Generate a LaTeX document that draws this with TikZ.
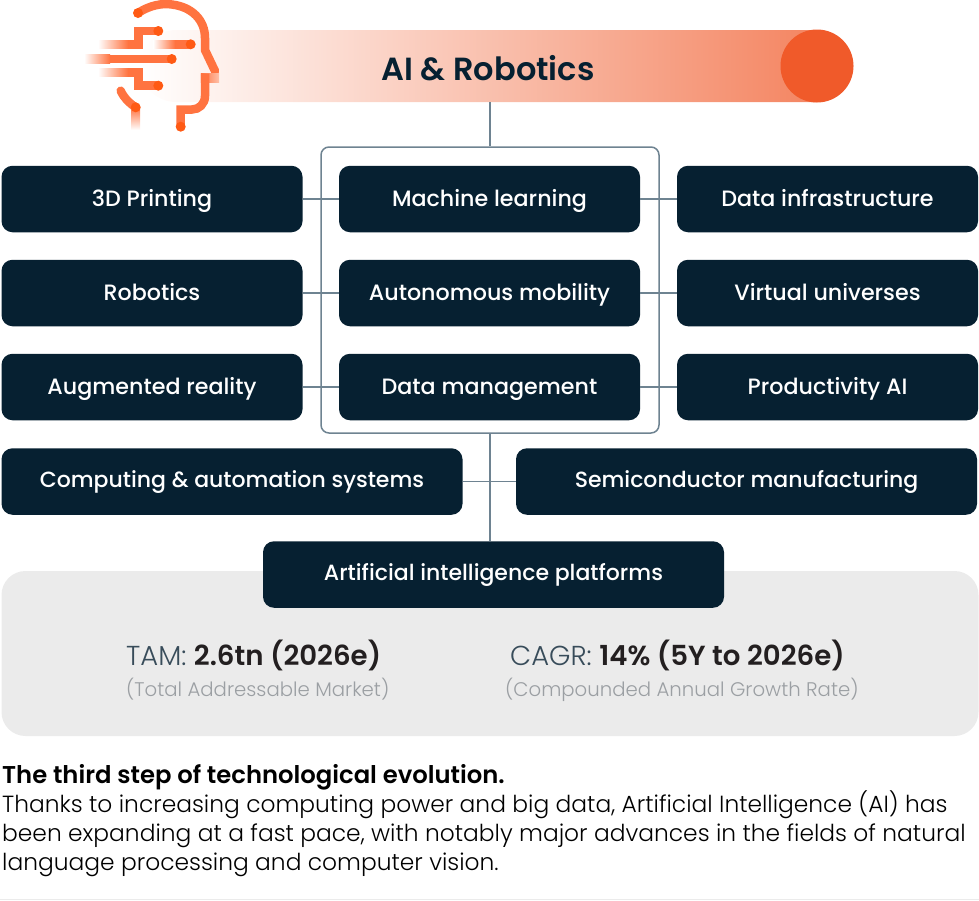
\documentclass[tikz,border=0pt]{standalone}
\usepackage{fontspec}
\setmainfont{Poppins}
\newfontfamily\lightfont{Poppins Light}
\newfontfamily\mediumfont{Poppins Medium}
\newfontfamily\semifont{Poppins SemiBold}
\definecolor{navy}{HTML}{062031}
\definecolor{wire}{HTML}{6E8391}
\definecolor{panel}{HTML}{EBEBEB}
\definecolor{flame}{HTML}{F05A2A}
\definecolor{iconline}{HTML}{FF7340}
\definecolor{icondot}{HTML}{FF5A14}
\definecolor{softgray}{HTML}{9B9FA3}
\definecolor{figure}{HTML}{231F20}
\tikzset{
	sector/.style={fill=navy, text=white, rounded corners=11pt, minimum height=66.5pt, inner sep=0pt, text height=19pt, text depth=5pt, font=\mediumfont\fontsize{22.2}{26}\selectfont},
	small box/.style={sector, minimum width=301pt},
	wide box/.style={sector, minimum width=461pt, text height=18pt, text depth=6pt, font=\mediumfont\fontsize{22}{26}\selectfont},
	wire/.style={draw=wire, line width=1.5pt},
	head/.style={draw=iconline, line width=8.5pt},
	dot/.style={fill=icondot, circle, minimum size=10pt, inner sep=0pt},
	tam/.style={font=\lightfont\fontsize{27.4}{30}\selectfont, text=navy!80, inner sep=0pt},
	note/.style={font=\lightfont\fontsize{19.7}{24}\selectfont, text=softgray, inner sep=0pt}
}
\newcommand{\figval}[1]{{\semifont\fontsize{27.6}{30}\selectfont\color{figure}#1}}
\begin{document}
\begin{tikzpicture}[x=1pt, y=-1pt]
	\useasboundingbox (0,0) rectangle (979,900);
	% banner
	\node[minimum width=713pt, minimum height=72pt, inner sep=0pt, rounded corners=36pt, left color=white, right color=flame!78] (banner) at (496.5,66) {};
	\node[circle, fill=flame, minimum size=73pt, inner sep=0pt] (disc) at (817,66) {};
	\node[font=\semifont\fontsize{32}{36}\selectfont, text=navy, inner sep=0pt] (title) at (488,68) {AI \& Robotics};
	% head icon
	\draw[head, line cap=round] (138,13) .. controls (150,5) and (163,3) .. (172,4.5) .. controls (192,7) and (205,20) .. (205,38) -- (205,50) -- (215,71);
	\fill[left color=iconline, right color=iconline!45] (200.8,73.7) rectangle (219,82.3);
	\draw[head] (205,73.7) -- (205,96) .. controls (205,104) and (199,109.5) .. (192,109.5) -- (180.7,109.5) -- (180.7,126.7);
	\draw[head] (158.3,31) -- (138.3,31) -- (138.3,44.3) -- (128,44.3);
	\draw[head] (158.3,85.7) -- (138.3,85.7) -- (138.3,72.3) -- (128,72.3);
	\draw[head] (171.7,59) -- (110,59);
	\draw[head] (190.7,44.3) -- (175,44.3);
	\draw[head, line cap=round] (120.7,90.7) .. controls (124,98) and (129,103) .. (135.7,107.3);
	\fill[left color=white, right color=iconline] (98,40) rectangle (128,48.6);
	\fill[left color=white, right color=iconline] (98,68) rectangle (128,76.6);
	\fill[left color=white, right color=iconline] (84,54.7) rectangle (110,63.3);
	\fill[left color=white, right color=iconline] (153,40) rectangle (175,48.6);
	\fill[top color=iconline, bottom color=white] (131.4,107.3) rectangle (140,130);
	\foreach \dotx/\doty in {138/13, 158.3/31, 190.7/44.3, 171.7/59, 158.3/85.7, 135.7/107.3, 180.7/126.7}
		\node[dot] at (\dotx,\doty) {};
	% panel and frame
	\node[fill=panel, rounded corners=24pt, minimum width=977pt, minimum height=165pt, inner sep=0pt] (panelbox) at (490,653.5) {};
	\node[draw=wire, line width=1.5pt, rounded corners=8pt, minimum width=338pt, minimum height=286pt, inner sep=0pt] (frame) at (490,290) {};
	% boxes
	\node[small box] (printing) at (152,199) {3D Printing};
	\node[small box] (machine) at (489.5,199) {Machine learning};
	\node[small box] (infra) at (827.5,199) {Data infrastructure};
	\node[small box] (robotics) at (152,293) {Robotics};
	\node[small box] (mobility) at (489.5,293) {Autonomous mobility};
	\node[small box] (universes) at (827.5,293) {Virtual universes};
	\node[small box] (reality) at (152,387) {Augmented reality};
	\node[small box] (management) at (489.5,387) {Data management};
	\node[small box] (productivity) at (827.5,387) {Productivity AI};
	\node[wide box] (computing) at (232,481.5) {Computing \& automation systems};
	\node[wide box] (semi) at (746.5,481.5) {Semiconductor manufacturing};
	\node[wide box] (platforms) at (493.5,574.5) {Artificial intelligence platforms};
	% connectors
	\draw[wire] (banner.south -| frame.north) -- (frame.north);
	\draw[wire] (frame.south) -- (platforms.north -| frame.south);
	\foreach \lhs/\rhs in {printing/machine, machine/infra, robotics/mobility, mobility/universes, reality/management, management/productivity, computing/semi}
		\draw[wire] (\lhs) -- (\rhs);
	% figures
	\node[tam, anchor=base west] (tam) at (126,665) {TAM: \figval{2.6tn (2026e)}};
	\node[note, anchor=base west] (tamnote) at (126,696) {(Total Addressable Market)};
	\node[tam, anchor=base west] (cagr) at (510,665) {CAGR: \figval{14\% (5Y to 2026e)}};
	\node[note, anchor=base west] (cagrnote) at (505,696) {(Compounded Annual Growth Rate)};
	% text
	\node[anchor=north west, align=left, inner sep=0pt, text=black, font=\lightfont\fontsize{23.35}{29}\selectfont] (body) at (2,764) {{\semifont\fontsize{24.3}{29}\selectfont The third step of technological evolution.}\\Thanks to increasing computing power and big data, Artificial Intelligence (AI) has\\been expanding at a fast pace, with notably major advances in the fields of natural\\language processing and computer vision.};
	\coordinate (ruleleft) at (0,899);
	\coordinate (ruleright) at (979,899);
	\draw[panel, line width=1pt] (ruleleft) -- (ruleright);
\end{tikzpicture}
\end{document}
